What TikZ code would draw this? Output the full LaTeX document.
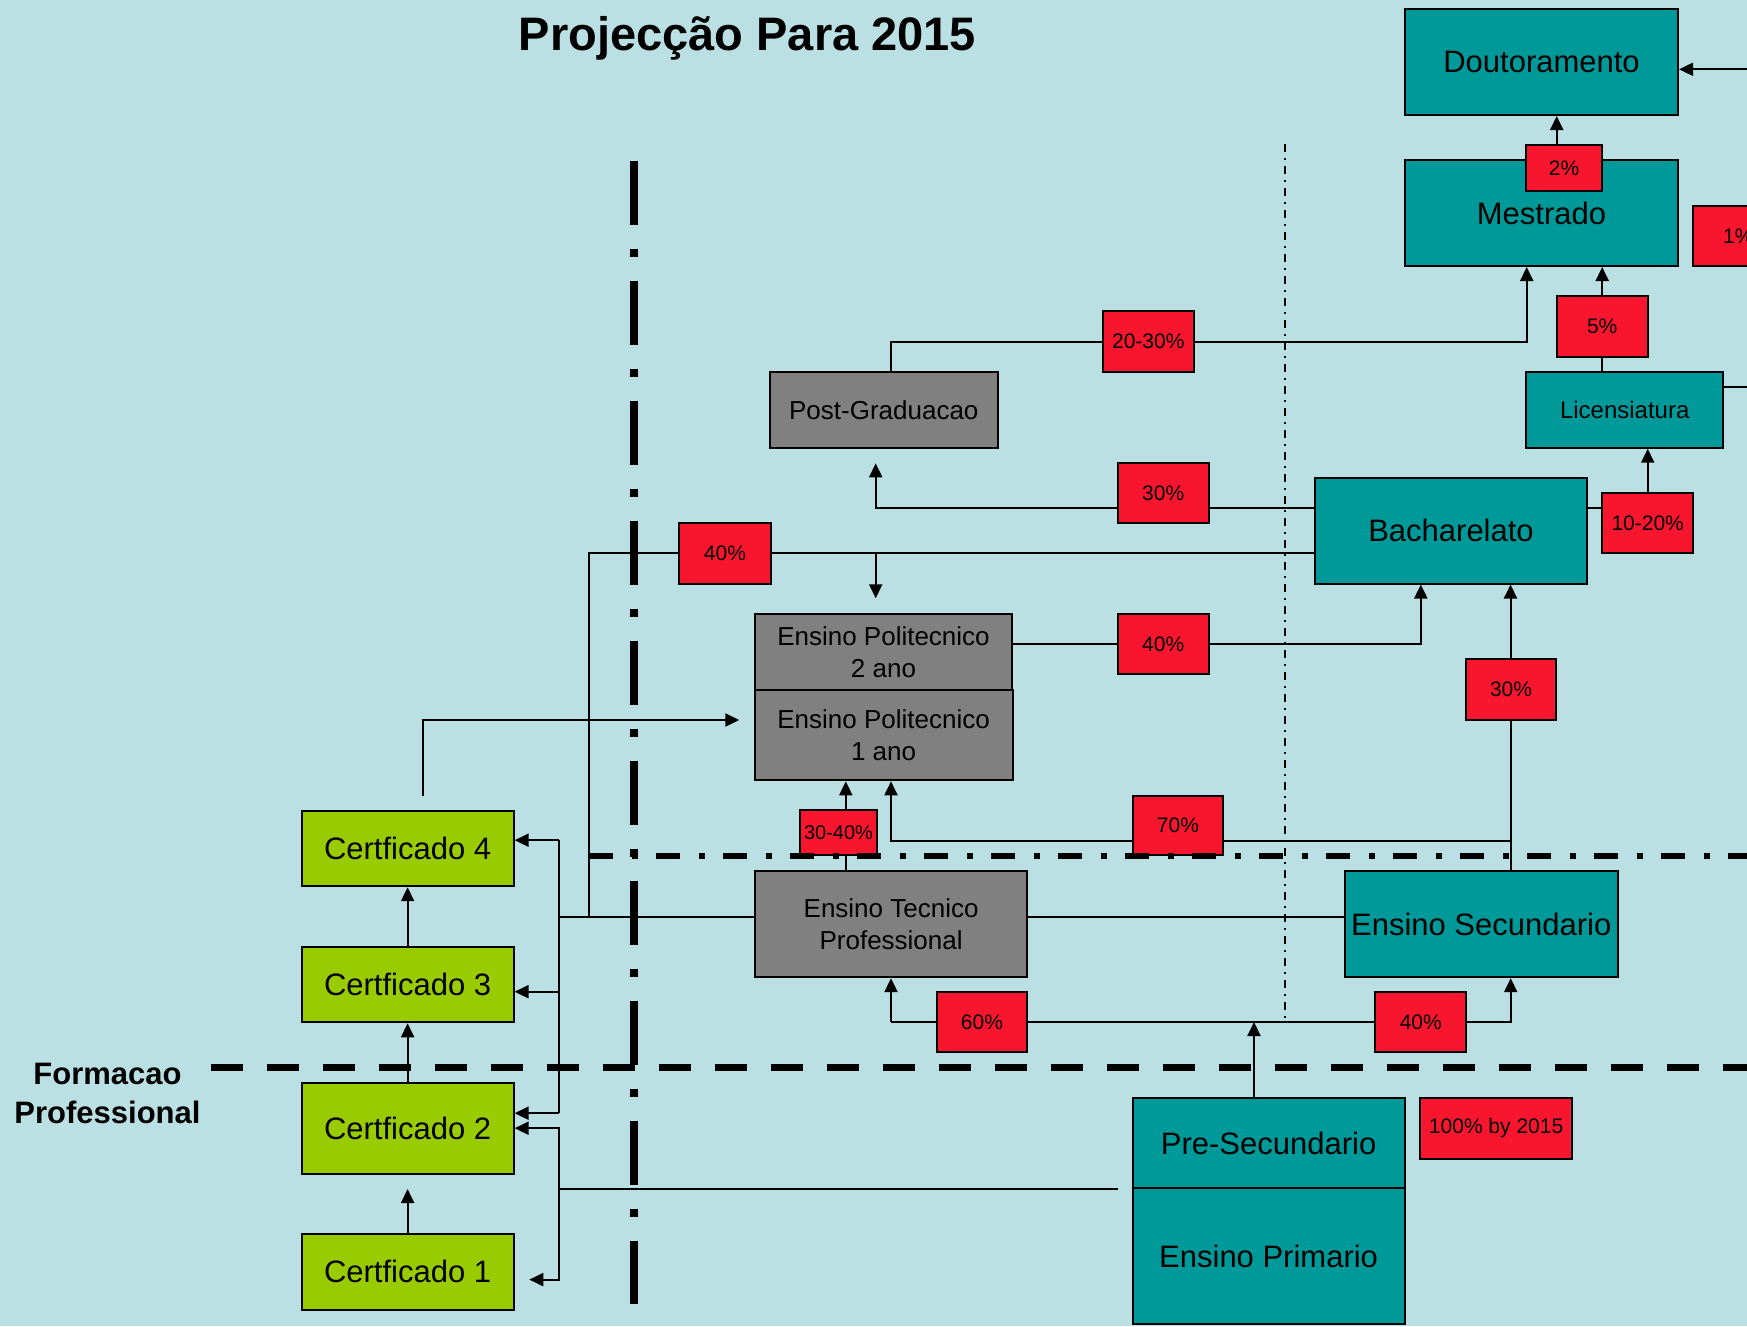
\documentclass[tikz,border=0pt]{standalone}
\usepackage{fontspec}
\setmainfont{Liberation Sans}
\usetikzlibrary{arrows.meta}
\definecolor{bgc}{RGB}{187,224,227}
\definecolor{tealc}{RGB}{0,153,153}
\definecolor{greyc}{RGB}{128,128,128}
\definecolor{limec}{RGB}{153,204,0}
\definecolor{redc}{RGB}{248,22,46}
\pgfdeclarelayer{back}
\pgfdeclarelayer{wires}
\pgfsetlayers{back,wires,main}
\begin{document}
\begin{tikzpicture}[x=1pt,y=-1pt,
  sz/.style 2 args={minimum width=#1pt, minimum height=#2pt},
  box/.style={draw=black, line width=2pt, inner sep=0pt, align=center, text=black},
  tealbox/.style={box, fill=tealc, font=\fontsize{31}{37}\selectfont},
  licbox/.style={box, fill=tealc, font=\fontsize{24}{29}\selectfont},
  greybox/.style={box, fill=greyc, font=\fontsize{26}{32}\selectfont},
  certbox/.style={box, fill=limec, font=\fontsize{31}{37}\selectfont},
  pct/.style={box, fill=redc, font=\fontsize{21}{25}\selectfont},
  wire/.style={line width=2pt, draw=black},
  arr/.style={wire, -{Triangle[length=14pt,width=13pt]}},
  lbl/.style={font=\bfseries\fontsize{31}{39}\selectfont, anchor=base, inner sep=0pt}
]
\useasboundingbox (0,0) rectangle (1747,1326);
\begin{pgfonlayer}{back}
  \fill[bgc] (0,0) rectangle (1747,1326);
\end{pgfonlayer}
\clip (0,0) rectangle (1747,1326);

% title
\node[font=\bfseries\fontsize{47}{56}\selectfont, anchor=base, inner sep=0pt] (title) at (747.5,50) {Projecção Para 2015};
\node[lbl] (fp1) at (107.5,1084) {Formacao};
\node[lbl] (fp2) at (107.5,1123) {Professional};

% nodes
\node[tealbox, sz={273}{106}] (dout) at (1541.5,62) {Doutoramento};
\node[tealbox, sz={273}{106}] (mest) at (1541.5,213) {Mestrado};
\node[pct, sz={76}{46}] (p2) at (1564,168) {2\%};
\node[pct, sz={91}{60}] (p1) at (1738.4,236) {1\%};
\node[pct, sz={91}{60.7}] (p5) at (1602.2,326.3) {5\%};
\node[licbox, sz={197.3}{75.4}] (lic) at (1624.7,410) {Licensiatura};
\node[pct, sz={91.3}{60.6}] (p1020) at (1647.7,523) {10-20\%};
\node[tealbox, sz={272.7}{105.8}] (bach) at (1451,530.6) {Bacharelato};
\node[pct, sz={91.5}{60.7}] (p2030) at (1148.3,341.7) {20-30\%};
\node[greybox, sz={227.6}{75.7}] (post) at (883.8,409.8) {Post-Graduacao};
\node[pct, sz={91}{60.3}] (p30a) at (1163.2,493.2) {30\%};
\node[pct, sz={91.4}{60.4}] (p40a) at (725,553.5) {40\%};
\node[greybox, sz={257.6}{76}] (ep2) at (883.5,651.7) {Ensino Politecnico\\2 ano};
\node[greybox, sz={257.8}{90.6}] (ep1) at (883.6,735) {Ensino Politecnico\\1 ano};
\node[pct, sz={91}{60.6}] (p40b) at (1163.2,644) {40\%};
\node[pct, sz={90}{61}] (p30b) at (1511,689.5) {30\%};
\node[pct, sz={76.2}{44.5}, font=\fontsize{20}{24}\selectfont] (p3040) at (838.5,832.7) {30-40\%};
\node[pct, sz={90.8}{59.3}] (p70) at (1177.9,825.4) {70\%};
\node[greybox, sz={272.2}{105.9}] (etp) at (891.1,924.2) {Ensino Tecnico\\Professional};
\node[tealbox, sz={272.9}{105.9}] (es) at (1481.2,924.2) {Ensino Secundario};
\node[pct, sz={90.7}{60.6}] (p60) at (981.9,1022) {60\%};
\node[pct, sz={90.7}{60.6}] (p40c) at (1420.8,1022) {40\%};
\node[tealbox, sz={272.2}{90.9}] (pre) at (1268.6,1143) {Pre-Secundario};
\node[tealbox, sz={272.2}{135.8}] (prim) at (1268.6,1256.3) {Ensino Primario};
\node[pct, sz={152.2}{61}] (p100) at (1496.1,1128) {100\% by 2015};
\node[certbox, sz={212}{75.6}] (c4) at (407.6,848.4) {Certficado 4};
\node[certbox, sz={212}{75.5}] (c3) at (407.6,984.5) {Certficado 3};
\node[certbox, sz={212}{90.5}] (c2) at (407.6,1128.3) {Certficado 2};
\node[certbox, sz={212}{75.6}] (c1) at (407.6,1271.8) {Certficado 1};

% coordinates
\coordinate (rin) at (1747,69.3);
\coordinate (x2) at (1556.7,0);
\coordinate (pgA) at (891,342);
\coordinate (mA) at (1526.7,342);
\coordinate (bA) at (0,508.3);
\coordinate (tA) at (875.7,508.3);
\coordinate (tTip) at (875.7,463.3);
\coordinate (fA) at (589,553.3);
\coordinate (fB) at (589,916.5);
\coordinate (dA) at (875.7,553.3);
\coordinate (dTip) at (875.7,598.3);
\coordinate (bus1) at (558.7,840.2);
\coordinate (bus3) at (558.7,991.7);
\coordinate (bus2) at (558.7,1113.2);
\coordinate (pl) at (1118,1189);
\coordinate (busA) at (558.7,1189);
\coordinate (busB) at (558.7,1128.2);
\coordinate (busC) at (558.7,1279.6);
\coordinate (c1Tip) at (529.3,1279.6);
\coordinate (c4up) at (422.5,795.7);
\coordinate (c4cor) at (422.5,720);
\coordinate (ep1Tip) at (739.3,720);
\coordinate (c2Tip) at (407.6,1189);
\coordinate (xA) at (845.8,0);
\coordinate (sv) at (1510.5,841);
\coordinate (sl) at (891,841);
\coordinate (mB) at (1420.8,644);
\coordinate (eL) at (891,1022);
\coordinate (eR) at (1510.7,1022);
\coordinate (pU) at (1254,1022);
\coordinate (lr) at (1747,387.3);

\begin{pgfonlayer}{wires}
  \draw[arr] (rin) -- (rin -| dout.east);
  \draw[arr] (x2 |- p2.north) -- (x2 |- dout.south);
  \draw[wire] (pgA |- post.north) -- (pgA) -- (p2030.west |- pgA);
  \draw[arr] (p2030.east |- mA) -- (mA) -- (mA |- mest.south);
  \draw[wire] (lic.north -| p5) -- (p5.south);
  \draw[arr] (p5.north) -- (p5.north |- mest.south);
  \draw[wire] (bach.east |- bA) -- (p1020.west |- bA);
  \draw[arr] (p1020.north) -- (p1020.north |- lic.south);
  \draw[wire] (lic.east |- lr) -- (lr);
  \draw[arr] (bach.west |- tA) -- (tA) -- (tTip);
  \draw[wire] (bach.west |- fA) -- (fA) -- (fB);
  \draw[arr] (dA) -- (dTip);
  \draw[arr] (ep2.east |- mB) -- (mB) -- (mB |- bach.south);
  \draw[wire] (etp.west |- fB) -- (fB -| bus1);
  \draw[wire] (etp.east |- fB) -- (es.west |- fB);
  \draw[wire] (bus1) -- (bus2);
  \draw[arr] (bus1) -- (bus1 -| c4.east);
  \draw[arr] (bus3) -- (bus3 -| c3.east);
  \draw[arr] (bus2) -- (bus2 -| c2.east);
  \draw[wire] (pl) -- (busA);
  \draw[arr] (busA) -- (busB) -- (busB -| c2.east);
  \draw[arr] (busA) -- (busC) -- (c1Tip);
  \draw[arr] (c4up) -- (c4cor) -- (ep1Tip);
  \draw[arr] (c3.north) -- (c4.south);
  \draw[arr] (c2.north) -- (c3.south);
  \draw[arr] (c1.north) -- (c2Tip);
  \draw[wire] (xA |- etp.north) -- (xA |- p3040.south);
  \draw[arr] (xA |- p3040.north) -- (xA |- ep1.south);
  \draw[wire] (sv |- es.north) -- (sv |- p30b.south);
  \draw[arr] (sv) -- (sl) -- (sl |- ep1.south);
  \draw[arr] (sv |- p30b.north) -- (sv |- bach.south);
  \draw[arr] (eL) -- (eL |- etp.south);
  \draw[arr] (eL) -- (eR) -- (eR |- es.south);
  \draw[arr] (pU |- pre.north) -- (pU);
\end{pgfonlayer}

% separator lines
\draw[line width=8pt, dash pattern=on 64pt off 24pt on 8pt off 24pt] (634,160.7) -- (634,1303.6);
\draw[line width=6.5pt, dash pattern=on 24pt off 18.5pt on 6pt off 18.5pt] (589,855.9) -- (1747,855.9);
\draw[line width=7.7pt, dash pattern=on 32pt off 24pt] (210.5,1067.6) -- (1747,1067.6);
\draw[line width=1.6pt, dash pattern=on 8pt off 6pt on 2pt off 6pt] (1284.7,144) -- (1284.7,1018);
\end{tikzpicture}
\end{document}
